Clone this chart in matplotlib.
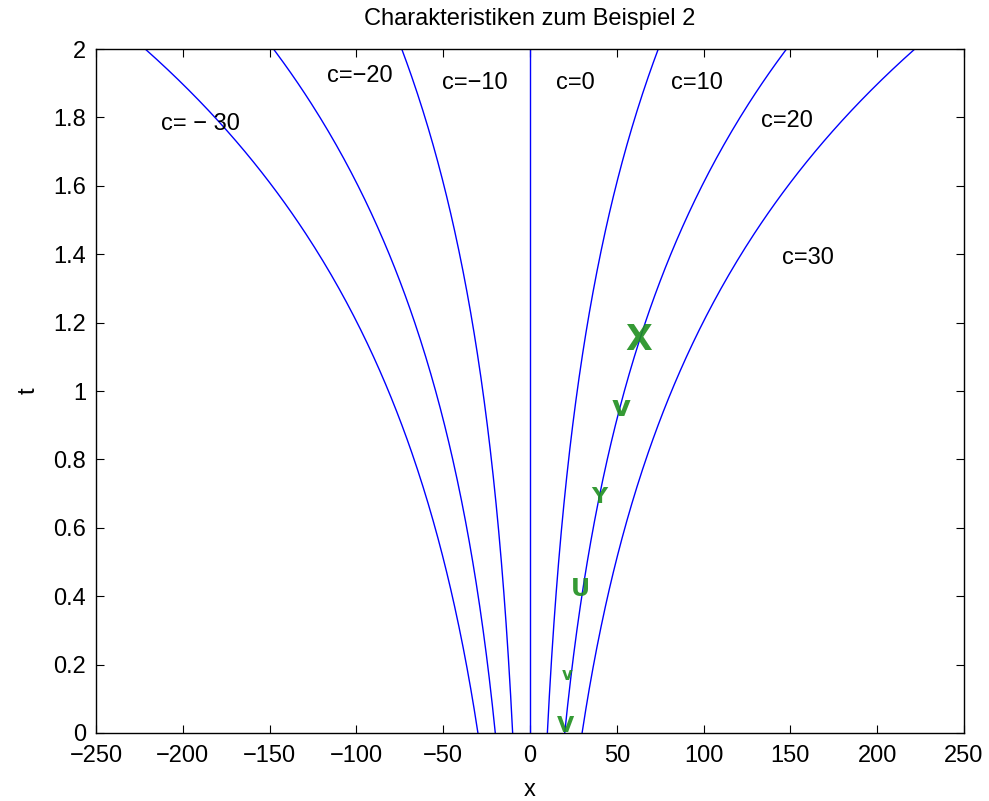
import numpy as np
import matplotlib
matplotlib.use("Agg")
import matplotlib.pyplot as plt

plt.rcParams['font.family'] = ['Liberation Sans', 'DejaVu Sans']

# characteristic constants and the time grid
c_values = [-30, -20, -10, 0, 10, 20, 30]
t = np.linspace(0, 2, 201)

# curve labels (text, x, t)
label_texts = ["c= \u2212 30", "c=\u221220", "c=\u221210", "c=0", "c=10", "c=20", "c=30"]
label_x = [-190, -98, -32, 26, 96, 148, 160]
label_t = [1.78, 1.92, 1.90, 1.90, 1.90, 1.79, 1.39]

# green hand marks along the c=20 characteristic
mark_texts = ["V", "v", "U", "Y", "v", "X"]
mark_x = [20.2, 21.3, 28.8, 39.7, 52.4, 62.5]
mark_t = [0.02, 0.17, 0.42, 0.69, 0.95, 1.15]
mark_sizes = [16, 12, 17, 16, 21, 25]

FS = 17

fig = plt.figure(figsize=(9.89, 8.01), dpi=100)
ax = fig.add_axes([0.0971, 0.0849, 0.8776, 0.8539])

for c in c_values:
    ax.plot(c * np.exp(t), t, color='#0000ff', lw=1.0)

for s, x, y in zip(label_texts, label_x, label_t):
    ax.text(x, y, s, ha='center', va='center', fontsize=FS)

for s, x, y, fs in zip(mark_texts, mark_x, mark_t, mark_sizes):
    ax.text(x, y, s, ha='center', va='center', fontsize=fs, color='#1f8f1f',
            fontweight='bold', family='DejaVu Sans', alpha=0.9)

ax.set_xlim(-250, 250)
ax.set_ylim(0, 2)
ax.set_xticks(np.arange(-250, 251, 50))
ax.set_yticks(np.arange(0, 2.01, 0.2))
ax.set_yticklabels(['0', '0.2', '0.4', '0.6', '0.8', '1', '1.2', '1.4', '1.6', '1.8', '2'])
ax.tick_params(direction='in', top=True, right=True, length=6, width=0.8, labelsize=FS)
ax.tick_params(axis='x', pad=9)
ax.tick_params(axis='y', pad=7)
for sp in ax.spines.values():
    sp.set_linewidth(1.0)

ax.set_title("Charakteristiken zum Beispiel 2", fontsize=FS, pad=17)
ax.set_xlabel("x", fontsize=FS, labelpad=8)
ax.set_ylabel("t", fontsize=FS, labelpad=10)

fig.savefig("out.png", dpi=100)
